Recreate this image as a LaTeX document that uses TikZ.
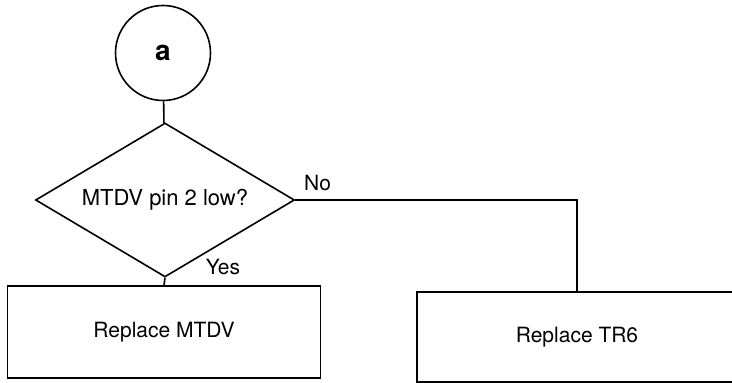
\documentclass[tikz,border=0pt]{standalone}
\usepackage{fontspec}
\setmainfont{TeX Gyre Heros}
\usepackage{tikz}
\usetikzlibrary{shapes.geometric,math}
\tikzset{%
  flow line/.style={line width=0.8pt, color=black},
  start/.style={circle, draw, flow line, minimum size=47.5pt, inner sep=0pt,
    font=\fontsize{14}{16}\selectfont\bfseries},
  test/.style={diamond, draw, flow line, aspect=1.68, minimum width=129.5pt, minimum height=77pt,
    inner sep=0pt, font=\fontsize{11}{13}\selectfont},
  action/.style={rectangle, draw, flow line, inner sep=0pt,
    font=\fontsize{10.5}{12}\selectfont},
  answer/.style={inner sep=1pt, font=\fontsize{10.5}{12}\selectfont}
}

\begin{document}
\begin{tikzpicture}[x=0.5pt,y=-0.5pt]
    \tikzmath{
      \W=732; \H=383; % picture size
      \cx=164; % main column
      \rx=577; % right column
    }
    \useasboundingbox (0,0) rectangle (\W,\H);
    \clip (0,0) rectangle (\W,\H);
    % Start and test:
    \node[start] (a) at (\cx-1,53) {a};
    \node[test] (pin2) at (\cx+1,200) {MTDV pin 2 low?};
    % Actions:
    \node[action, minimum width=156.5pt, minimum height=46pt] (mtdv) at (\cx,332) {Replace MTDV};
    \node[action, minimum width=160pt, minimum height=45pt] (tr6) at (\rx,337) {Replace TR6};
    % Connectors:
    \draw[flow line] (a) -- (pin2);
    \draw[flow line] (pin2.south) node[answer, anchor=south west, xshift=19pt] {Yes} -- (mtdv.north);
    \draw[flow line] (pin2.east) node[answer, anchor=south west, xshift=3pt, yshift=3pt] {No} -| (tr6.north);
\end{tikzpicture}
\end{document}
